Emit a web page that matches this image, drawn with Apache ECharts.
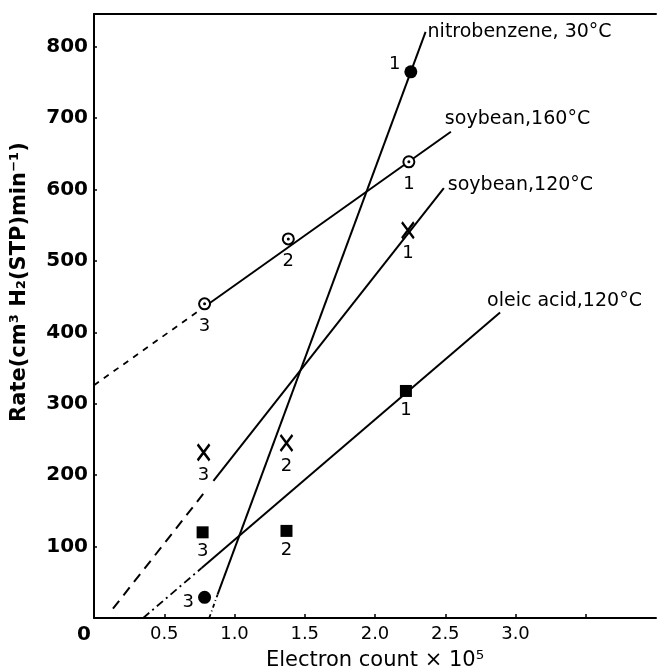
<!DOCTYPE html>
<html>
<head>
<meta charset="utf-8">
<script src="https://cdn.jsdelivr.net/npm/echarts@6/dist/echarts.min.js"></script>
<style>html,body{margin:0;padding:0;background:#fff;}#c{width:657px;height:670px;}</style>
</head>
<body>
<div id="c"></div>
<script>
// ---- data ----
const xTickValues = [0.5, 1.0, 1.5, 2.0, 2.5, 3.0, 3.5];
const xTickLabels = [0, 0.5, 1.0, 1.5, 2.0, 2.5, 3.0];
const yTickValues = [100, 200, 300, 400, 500, 600, 700, 800];

// measured points
const nitroX = [2.255, 0.787];
const nitroY = [765, 29];
const nitroN = ['1', '3'];

const soy160X = [2.241, 1.383, 0.787];
const soy160Y = [639, 531, 440];
const soy160N = ['1', '2', '3'];

const soy120X = [2.234, 1.37, 0.78];
const soy120Y = [543, 245, 232];
const soy120N = ['1', '2', '3'];

const oleicX = [2.22, 1.37, 0.773];
const oleicY = [318, 122, 120];
const oleicN = ['1', '2', '3'];

// fitted lines: [x, y] endpoints
const nitroSolid = [[0.88, 33], [2.36, 821]];
const nitroExt = [[0.82, 0], [0.88, 33]];
const soy160Solid = [[0.787, 436], [2.54, 681]];
const soy160Ext = [[0, 326], [0.787, 436]];
const soy120Solid = [[0.85, 192], [2.49, 602]];
const soy120Ext = [[0.135, 13], [0.79, 177]];
const oleicSolid = [[0.766, 70], [2.89, 428]];
const oleicExt = [[0.35, 0], [0.766, 70]];

const lineNames = ['nitrobenzene, 30°C', 'soybean,160°C', 'soybean,120°C', 'oleic acid,120°C'];

// ---- chart ----
const FONT = "'DejaVu Sans', 'Liberation Sans', sans-serif";
const chart = echarts.init(document.getElementById('c'), null, {renderer: 'canvas'});

function pts(xs, ys, ns) { return xs.map((x, i) => ({value: [x, ys[i]], n: ns[i]})); }

function lineSeries(data, dash, width) {
  return {
    type: 'line', data: data, symbol: 'none', silent: true, z: 2,
    lineStyle: {color: '#000', width: width || 2, type: dash || 'solid'}
  };
}
function solidWithLabel(data, name, off) {
  const s = lineSeries(data);
  s.name = name;
  s.endLabel = {show: true, formatter: name, distance: 5, offset: off,
    color: '#000', fontFamily: FONT, fontSize: 19};
  return s;
}
const ptLabel = (pos, dist) => ({show: true, position: pos, distance: dist,
  formatter: p => p.data.n, color: '#000', fontFamily: FONT, fontSize: 18});

const nitroData = pts(nitroX, nitroY, nitroN);
nitroData[0].label = {offset: [0, -8]};
nitroData[1].label = {offset: [0, 5]};

const option = {
  animation: false,
  backgroundColor: '#fff',
  grid: {left: 94, right: 1, top: 14, bottom: 52, containLabel: false, outerBoundsMode: 'none'},
  xAxis: [{
    type: 'value', min: 0, max: 4, position: 'bottom',
    name: 'Electron count × 10⁵', nameLocation: 'middle', nameGap: 32,
    nameTextStyle: {color: '#000', fontFamily: FONT, fontSize: 21},
    axisLine: {show: true, onZero: false, lineStyle: {color: '#000', width: 2}},
    axisTick: {show: true, inside: true, length: 4, customValues: xTickValues, lineStyle: {color: '#000', width: 1.5}},
    axisLabel: {show: true, customValues: xTickLabels, margin: 7, color: '#000', fontFamily: FONT, fontSize: 18,
      formatter: v => v === 0 ? '{z|0}' : v.toFixed(1),
      rich: {z: {fontFamily: FONT, fontSize: 20, fontWeight: 'bold', color: '#000', padding: [0, 20, 12, 0]}}},
    splitLine: {show: false}
  }, {
    type: 'value', min: 0, max: 4, position: 'top',
    axisLine: {show: true, onZero: false, lineStyle: {color: '#000', width: 2}},
    axisTick: {show: false}, axisLabel: {show: false}, splitLine: {show: false}
  }],
  yAxis: {
    type: 'value', min: 0, max: 846,
    name: 'Rate(cm³ H₂(STP)min⁻¹)', nameLocation: 'middle', nameGap: 64, nameRotate: 90,
    nameTextStyle: {color: '#000', fontFamily: FONT, fontSize: 21, fontWeight: 'bold', padding: [0, 0, 0, 68]},
    axisLine: {show: true, onZero: false, lineStyle: {color: '#000', width: 2}},
    axisTick: {show: true, inside: true, length: 3, customValues: yTickValues, lineStyle: {color: '#000', width: 1.5}},
    axisLabel: {show: true, customValues: yTickValues, margin: 6, color: '#000', fontFamily: FONT, fontSize: 20, fontWeight: 'bold'},
    splitLine: {show: false}
  },
  series: [
    lineSeries(nitroExt, [4, 3, 1, 3], 1.8),
    solidWithLabel(nitroSolid, lineNames[0], [-3, 0]),
    lineSeries(soy160Ext, [6, 6], 1.8),
    solidWithLabel(soy160Solid, lineNames[1], [-11, -13]),
    lineSeries(soy120Ext, [10, 7], 2),
    solidWithLabel(soy120Solid, lineNames[2], [-1, -3]),
    lineSeries(oleicExt, [8, 4, 2, 4], 1.8),
    solidWithLabel(oleicSolid, lineNames[3], [-18, -11]),
    {
      type: 'scatter', data: nitroData, symbol: 'circle', symbolSize: 13, z: 5,
      itemStyle: {color: '#000', opacity: 1}, label: ptLabel('left', 4)
    },
    {
      type: 'scatter', data: pts(soy160X, soy160Y, soy160N), symbol: 'circle', symbolSize: 11, z: 5,
      itemStyle: {color: '#fff', borderColor: '#000', borderWidth: 2, opacity: 1}, label: ptLabel('bottom', 7)
    },
    {
      type: 'scatter', data: pts(soy160X, soy160Y, soy160N), symbol: 'circle', symbolSize: 3, z: 6,
      itemStyle: {color: '#000', opacity: 1}, label: {show: false}
    },
    {
      type: 'scatter', data: pts(soy120X, soy120Y, soy120N), symbol: 'path://M0,0L12,16M12,0L0,16', symbolSize: [12, 16], z: 5,
      itemStyle: {color: 'none', borderColor: '#000', borderWidth: 2.5, opacity: 1}, label: ptLabel('bottom', 3)
    },
    {
      type: 'scatter', data: pts(oleicX, oleicY, oleicN), symbol: 'rect', symbolSize: 12, z: 5,
      itemStyle: {color: '#000', opacity: 1}, label: ptLabel('bottom', 4)
    }
  ]
};
chart.setOption(option);
</script>
</body>
</html>
